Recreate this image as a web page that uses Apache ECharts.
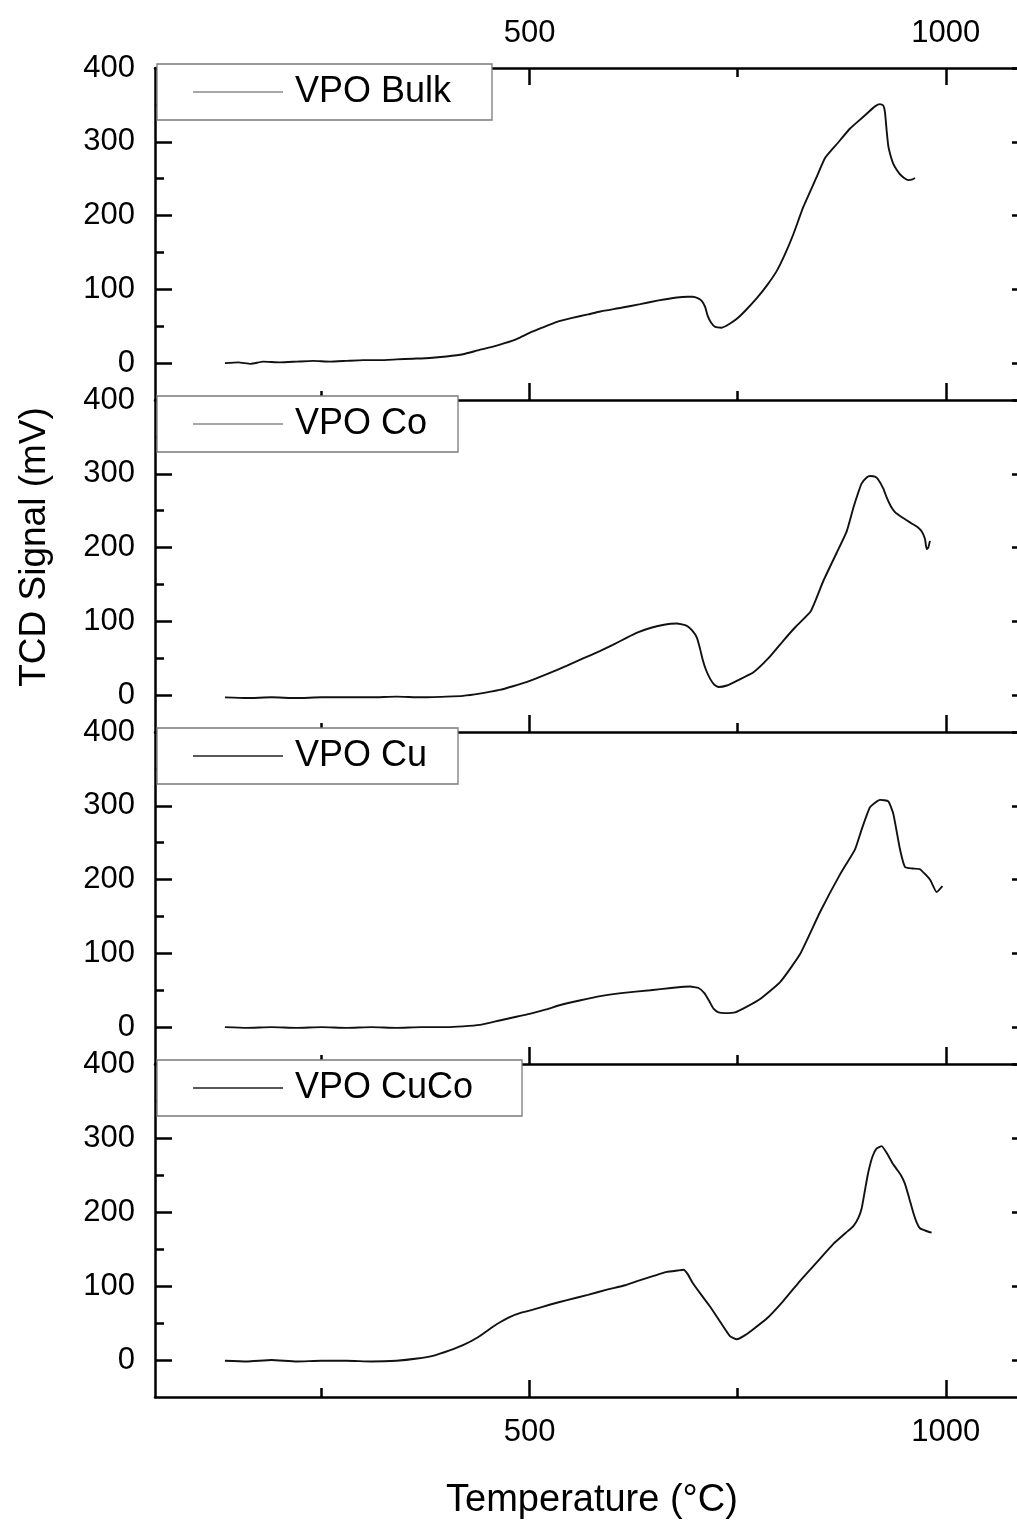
<!DOCTYPE html>
<html><head><meta charset="utf-8">
<script src="https://cdn.jsdelivr.net/npm/echarts@6/dist/echarts.min.js"></script>
<style>html,body{margin:0;padding:0;background:#fff}#c{width:1017px;height:1522px}</style>
</head><body><div id="c"></div>
<script>
// ---------- data (temperature in °C, TCD signal in mV) ----------
const seriesNames = ['VPO Bulk', 'VPO Co', 'VPO Cu', 'VPO CuCo'];

const bulkT = [134,150,165,180,200,220,240,260,280,300,320,340,360,380,400,420,440,455,470,485,500,515,533,550,570,585,610,633,655,677,690,696,702,707,711,714,718,723,731,740,749,760,773,785,797,807,817,829,844,855,870,885,895,905,915,921,925,927,929,931,934,937,941,945,950,955,960,963];
const bulkV = [0,1,-1,2,1,2,3,2,3,4,4,5,6,7,9,12,18,22,27,33,41,48,56,61,66,70,75,80,85,89,90,90,88,84,76,64,55,49,48,53,60,72,88,105,125,148,175,212,250,278,298,318,328,338,348,351,349,340,315,294,280,270,262,256,251,248,249,251];

const coT = [134,160,190,220,250,280,310,340,370,400,420,440,464,480,497,520,545,565,585,600,617,630,645,660,677,689,695,701,705,708,712,717,722,727,737,750,769,787,805,820,838,853,869,881,889,895,899,905,909,915,919,925,929,934,939,946,953,960,966,971,975,977,979,981];
const coV = [-3,-4,-3,-4,-3,-3,-3,-2,-3,-2,-1,2,7,12,18,28,40,50,60,68,78,85,91,95,97,94,88,78,62,48,34,22,14,11,13,20,31,50,74,93,114,155,193,222,254,275,287,295,297,296,292,280,268,256,248,242,237,232,228,222,212,198,200,209];

const cuT = [134,160,190,220,250,280,310,340,370,400,420,440,464,480,500,520,537,560,585,610,645,670,693,703,710,716,721,727,735,747,760,777,801,825,849,873,891,899,909,921,931,937,945,951,960,969,981,989,996];
const cuV = [0,-1,0,-1,0,-1,0,-1,0,0,1,3,9,13,18,24,30,36,42,46,50,53,55,53,46,35,25,20,19,20,27,38,61,99,156,207,241,268,298,308,306,289,241,217,215,214,200,183,191];

const cucoT = [134,160,190,220,250,280,310,340,365,385,404,420,437,456,466,476,490,504,525,545,570,593,615,633,650,665,678,685,690,696,705,717,730,741,749,758,768,785,805,825,845,865,880,889,895,899,903,907,912,917,923,930,936,941,946,951,956,961,965,969,975,983];
const cucoV = [-1,-2,0,-2,-1,-1,-2,-1,2,6,13,20,30,45,52,58,64,68,75,81,88,95,101,108,114,119,121,122,116,104,90,72,50,32,28,33,41,56,80,107,132,157,172,181,192,205,230,254,275,286,289,278,266,258,250,238,219,199,186,178,175,172];

const xMajorTicks = [500, 1000];
const xMinorTicks = [250, 750];
const yMajorTicks = [0, 100, 200, 300, 400];
const yMinorTicks = [50, 150, 250, 350];

const allT = [bulkT, coT, cuT, cucoT];
const allV = [bulkV, coV, cuV, cucoV];
const legendLineColors = ['#8a8a8a', '#8a8a8a', '#222', '#222'];

// ---------- layout ----------
const FONT = '"Liberation Sans", Arial, sans-serif';
const panelTop = [68, 400, 732, 1064];
const panelH = [332, 332, 332, 333];
const legendRight = [492, 458, 458, 522];
const legendFont = 36;
const legendTextShift = 7;
const X_MIN = 50, X_MAX = 1100;
const plainNum = v => String(v);

const grids = [], xAxes = [], yAxes = [], series = [], legends = [];

function tickStyle() { return { color: '#000', width: 2.5 }; }

for (let i = 0; i < 4; i++) {
  grids.push({ left: 155, width: 874, top: panelTop[i], height: panelH[i], outerBoundsMode: 'none', containLabel: false });
  // bottom major
  xAxes.push({
    gridIndex: i, type: 'value', min: X_MIN, max: X_MAX, position: 'bottom',
    name: i === 3 ? 'Temperature (°C)' : '', nameLocation: 'middle', nameGap: 85,
    nameTextStyle: { fontFamily: FONT, fontSize: 38, color: '#000' },
    axisLine: { show: true, onZero: false, lineStyle: { color: '#000', width: 2.5 } },
    axisTick: { show: true, inside: true, length: 17, customValues: xMajorTicks, lineStyle: tickStyle() },
    axisLabel: { show: i === 3, customValues: xMajorTicks, formatter: plainNum, fontFamily: FONT, fontSize: 31, color: '#000', margin: 20 },
    splitLine: { show: false }
  });
  // bottom minor
  xAxes.push({
    gridIndex: i, type: 'value', min: X_MIN, max: X_MAX, position: 'bottom',
    axisLine: { show: false, onZero: false },
    axisTick: { show: true, inside: true, length: 9, customValues: xMinorTicks, lineStyle: tickStyle() },
    axisLabel: { show: false }, splitLine: { show: false }
  });
  // left major
  yAxes.push({
    gridIndex: i, type: 'value', min: -50, max: 400, position: 'left',
    axisLine: { show: true, onZero: false, lineStyle: { color: '#000', width: 2.5 } },
    axisTick: { show: true, inside: true, length: 17, customValues: yMajorTicks, lineStyle: tickStyle() },
    axisLabel: { show: true, customValues: yMajorTicks, formatter: plainNum, fontFamily: FONT, fontSize: 31, color: '#000', margin: 20 },
    splitLine: { show: false }
  });
  // left minor
  yAxes.push({
    gridIndex: i, type: 'value', min: -50, max: 400, position: 'left',
    axisLine: { show: false, onZero: false },
    axisTick: { show: true, inside: true, length: 9, customValues: yMinorTicks, lineStyle: tickStyle() },
    axisLabel: { show: false }, splitLine: { show: false }
  });
  // right major
  yAxes.push({
    gridIndex: i, type: 'value', min: -50, max: 400, position: 'right',
    axisLine: { show: true, onZero: false, lineStyle: { color: '#000', width: 2.5 } },
    axisTick: { show: true, inside: true, length: 17, customValues: yMajorTicks, lineStyle: tickStyle() },
    axisLabel: { show: false }, splitLine: { show: false }
  });

  const data = allT[i].map((t, k) => [t, allV[i][k]]);
  series.push({
    name: seriesNames[i], type: 'line', xAxisIndex: 2 * i, yAxisIndex: 3 * i,
    data: data, symbol: 'none', showSymbol: false, smooth: 0.15,
    lineStyle: { color: '#111', width: 1.9 }, itemStyle: { color: '#111' },
    animation: false
  });

  legends.push({
    data: [seriesNames[i]], left: 157, top: panelTop[i] - 4,
    orient: 'horizontal', selectedMode: false,
    backgroundColor: '#fff', borderColor: '#7a7a7a', borderWidth: 1.3, borderRadius: 0,
    padding: [10, 0, 10, 36], itemWidth: 90, itemHeight: 1.6, itemGap: 0,
    icon: 'rect',
    itemStyle: { color: legendLineColors[i], borderWidth: 0 },
    textStyle: { fontFamily: FONT, fontSize: legendFont, color: '#000', lineHeight: 34, padding: [0, 0, 0, legendTextShift] },
    _boxRight: legendRight[i]
  });
}

// top axis of the first panel
xAxes.push({
  gridIndex: 0, type: 'value', min: X_MIN, max: X_MAX, position: 'top',
  axisLine: { show: true, onZero: false, lineStyle: { color: '#000', width: 2.5 } },
  axisTick: { show: true, inside: true, length: 17, customValues: xMajorTicks, lineStyle: tickStyle() },
  axisLabel: { show: true, customValues: xMajorTicks, formatter: plainNum, fontFamily: FONT, fontSize: 31, color: '#000', margin: 19 },
  splitLine: { show: false }
});
xAxes.push({
  gridIndex: 0, type: 'value', min: X_MIN, max: X_MAX, position: 'top',
  axisLine: { show: false, onZero: false },
  axisTick: { show: true, inside: true, length: 9, customValues: xMinorTicks, lineStyle: tickStyle() },
  axisLabel: { show: false }, splitLine: { show: false }
});

// pad each legend box on the right so its width matches the reference
const measureCtx = document.createElement('canvas').getContext('2d');
measureCtx.font = legendFont + 'px ' + FONT;
legends.forEach((lg, i) => {
  const tw = measureCtx.measureText(seriesNames[i]).width + legendTextShift;
  const contentW = 36 + 90 + 5 + tw;
  const boxW = lg._boxRight - 157;
  lg.padding = [10, Math.max(4, boxW - contentW), 10, 36];
  delete lg._boxRight;
});

const chart = echarts.init(document.getElementById('c'), null, { renderer: 'canvas' });
chart.setOption({
  backgroundColor: '#fff',
  animation: false,
  grid: grids,
  xAxis: xAxes,
  yAxis: yAxes,
  legend: legends,
  series: series,
  graphic: [{
    type: 'text', x: 35, y: 547, rotation: Math.PI / 2,
    style: { text: 'TCD Signal (mV)', font: '37px ' + FONT, fill: '#000', textAlign: 'center', textVerticalAlign: 'middle' }
  }]
});
</script></body></html>
